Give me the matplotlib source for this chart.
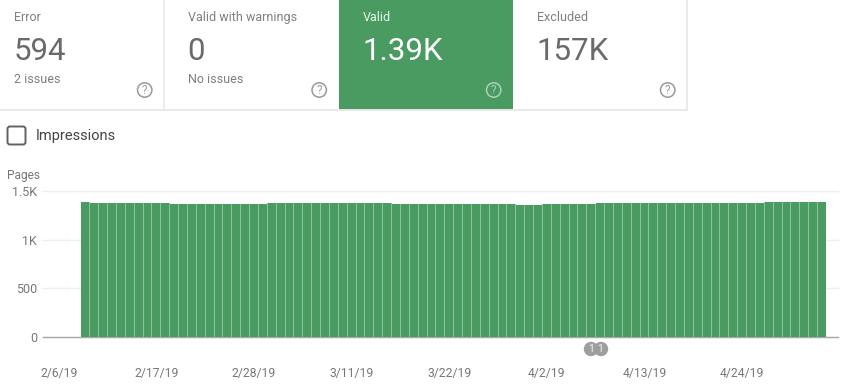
import matplotlib
matplotlib.use("Agg")
import matplotlib.pyplot as plt
from matplotlib.patches import Rectangle, Circle, FancyBboxPatch
import numpy as np
import pandas as pd

plt.rcParams['font.family'] = ['Roboto', 'DejaVu Sans']

# Data
card_titles = ["Error", "Valid with warnings", "Valid", "Excluded"]
card_values = ["594", "0", "1.39K", "157K"]
card_notes = ["2 issues", "No issues", "", ""]
dates = pd.date_range("2019-02-09", "2019-05-03")
pages = ([1385] + [1375] * 9 + [1365] * 11 + [1375] * 14 + [1365] * 14
         + [1355] * 3 + [1365] * 6 + [1375] * 19 + [1385] * 7)
y_ticks = [0, 500, 1000, 1500]
y_labels = ["0", "500", "1K", "1.5K"]
x_tick_labels = ["2/6/19", "2/17/19", "2/28/19", "3/11/19", "3/22/19",
                 "4/2/19", "4/13/19", "4/24/19"]
x_tick_dates = pd.to_datetime(x_tick_labels, format="%m/%d/%y")

W, H = 850, 388
GREEN = "#4a9b61"
fig = plt.figure(figsize=(W / 100, H / 100), dpi=100, facecolor="white")

# Overlay in pixel coordinates for the page furniture
ui = fig.add_axes([0, 0, 1, 1], zorder=3)
ui.set_xlim(0, W)
ui.set_ylim(H, 0)
ui.axis("off")

edges = [0, 164.5, 339, 513.5, 687.5]
selected = 2
ui.add_patch(Rectangle((edges[selected], 0), edges[selected + 1] - edges[selected], 110,
                       fc=GREEN, ec="none"))
LINE = "#e9e9e9"
ui.plot([0, edges[-1]], [110, 110], color=LINE, lw=1.4, solid_capstyle="butt", zorder=1)
ui.plot([edges[1]] * 2, [0, 110], color=LINE, lw=1.2, zorder=1)
ui.plot([edges[4]] * 2, [0, 110], color=LINE, lw=1.4, zorder=1)

for i, (t, v, n) in enumerate(zip(card_titles, card_values, card_notes)):
    x = edges[i] + (14 if i == 0 else 23.5)
    on = i == selected
    ui.text(x, 17.4, t, fontsize=9, va="center", ha="left",
            color="#e8f3eb" if on else "#7f7f7f")
    ui.text(x - 0.5, 52, v, fontsize=22.5, va="center", ha="left",
            color="white" if on else "#6a6a6a")
    if n:
        ui.text(x, 79.5, n, fontsize=9, va="center", ha="left", color="#7f7f7f")
    cx = edges[i + 1] - 19.8
    icon = "#a9d2b5" if on else "#999999"
    ui.add_patch(Circle((cx, 90), 7.2, fc="none", ec=icon, lw=1.1))
    ui.text(cx, 90.2, "?", fontsize=8.5, va="center", ha="center", color=icon)

ui.add_patch(FancyBboxPatch((9, 128), 15, 15, boxstyle="round,pad=1.5,rounding_size=2.5",
                            fc="white", ec="#616161", lw=1.4))
ui.text(35.5, 136, "Impressions", fontsize=10.5, va="center", ha="left", color="#444444")
ui.text(7, 175.5, "Pages", fontsize=8.6, va="center", ha="left", color="#777777")

# Range-annotation badges
for cx in [591, 601]:
    ui.add_patch(Circle((cx, 349), 7.2, fc="#9e9e9e", ec="none"))
for cx in [591.3, 600.3]:
    ui.text(cx, 348.6, "1", fontsize=7.5, va="center", ha="center", color="#f2f2f2")

# Chart
left, right, top, base = 43, 838, 191.3, 336.7
ax = fig.add_axes([left / W, (H - base) / H, (right - left) / W, (base - top) / H], zorder=2)
ax.patch.set_alpha(0)
day = 8.875
first_center = 85.4
origin = dates[0]
pos = np.arange(len(dates))
ax.bar(pos, pages, width=1.0, color="#8cc19d", linewidth=0, zorder=3)
ax.bar(pos, pages, width=0.88, color=GREEN, linewidth=0, zorder=4)
ax.set_xlim(-(first_center - left) / day, (right - first_center) / day)
ax.set_ylim(0, 1500)
ax.set_yticks(y_ticks, y_labels)
ax.set_xticks([(d - origin).days for d in x_tick_dates], x_tick_labels)
ax.tick_params(axis="y", length=0, pad=4.3, labelsize=9, labelcolor="#777777")
ax.tick_params(axis="x", length=0, pad=21.8, labelsize=8.7, labelcolor="#777777")
ax.grid(axis="y", color="#eeeeee", lw=1, zorder=0, clip_on=False)
ax.set_axisbelow(True)
for s in ["top", "left", "right"]:
    ax.spines[s].set_visible(False)
ax.spines["bottom"].set_color("#a8a8a8")
ax.spines["bottom"].set_linewidth(1)

fig.savefig("out.png", dpi=100, facecolor="white")
